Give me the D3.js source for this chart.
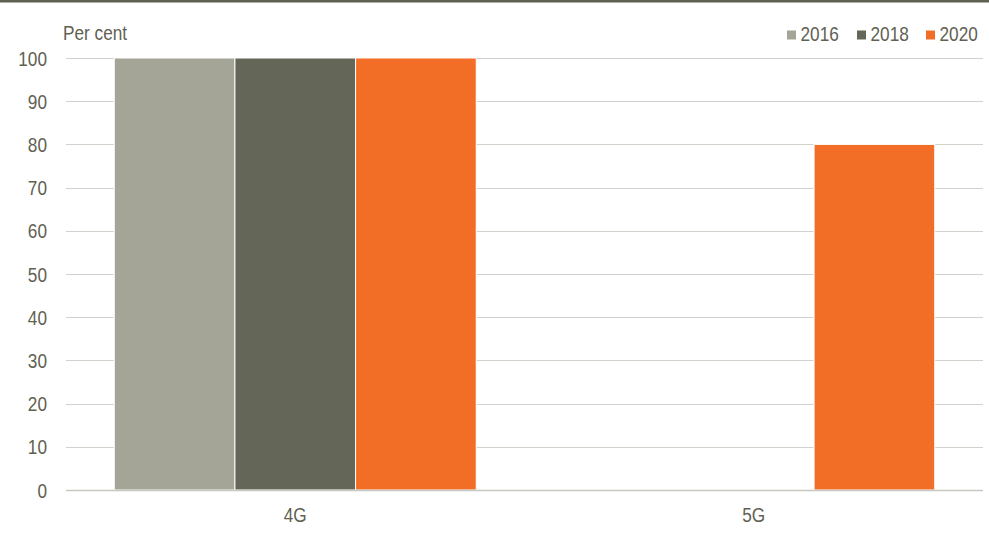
<!DOCTYPE html>
<html><head><meta charset="utf-8">
<script src="https://cdn.jsdelivr.net/npm/d3@7"></script>
<style>
body{margin:0;background:#fff;}
text{font-family:"Liberation Sans",Arial,sans-serif;fill:#5f6152;font-size:20.5px;}
</style></head><body>
<svg id="c" width="989" height="540"></svg>
<script>
const categories = ["4G", "5G"];
const seriesNames = ["2016", "2018", "2020"];
const values2016 = [100, 0];
const values2018 = [100, 0];
const values2020 = [100, 80];
const yTicks = [0, 10, 20, 30, 40, 50, 60, 70, 80, 90, 100];
const colors = ["#a5a597", "#646657", "#f26e26"];

const series = [values2016, values2018, values2020];
const svg = d3.select("#c");
const W = 989, H = 540;
const m = {l: 66, r: 6, t: 58, b: 50};
const SX = 0.84; // horizontal compression to mimic a narrow face

svg.append("rect").attr("x",0).attr("y",0).attr("width",W).attr("height",2.5).attr("fill","#5f6152");

const x0 = d3.scaleBand().domain(categories).range([m.l, W - m.r]).paddingInner(0).paddingOuter(0);
const x1 = d3.scaleBand().domain(seriesNames).range([0, x0.bandwidth()]).paddingOuter(0.4).paddingInner(0);
const y = d3.scaleLinear().domain([0, 100]).range([H - m.b, m.t]);

// gridlines
svg.append("g").selectAll("line").data(yTicks).join("line")
  .attr("x1", m.l).attr("x2", W - m.r)
  .attr("y1", d => Math.round(y(d)) + 0.5).attr("y2", d => Math.round(y(d)) + 0.5)
  .attr("stroke", "#d2d2cc").attr("stroke-width", 1);

// y axis labels
svg.append("g").selectAll("text").data(yTicks).join("text")
  .attr("transform", d => `translate(${m.l - 19},${y(d) + 7.5}) scale(${SX},1)`)
  .attr("text-anchor", "end")
  .text(d => d);

// bars
const groups = svg.append("g").selectAll("g").data(categories).join("g")
  .attr("transform", d => `translate(${x0(d)},0)`);
groups.selectAll("rect").data((c, i) => seriesNames.map((s, j) => ({s, j, v: series[j][i]})))
  .join("rect")
  .attr("x", d => x1(d.s)).attr("width", x1.bandwidth())
  .attr("y", d => y(d.v)).attr("height", d => y(0) - y(d.v))
  .attr("fill", d => colors[d.j])
  .attr("stroke", "#ffffff").attr("stroke-width", d => d.v > 0 ? 1 : 0);

// baseline
svg.append("line").attr("x1", m.l).attr("x2", W - m.r)
  .attr("y1", Math.round(y(0)) + 0.5).attr("y2", Math.round(y(0)) + 0.5)
  .attr("stroke", "#c8c8c0").attr("stroke-width", 1.5);

// x axis labels
svg.append("g").selectAll("text").data(categories).join("text")
  .attr("transform", d => `translate(${x0(d) + x0.bandwidth() / 2},522) scale(${SX},1)`)
  .attr("text-anchor", "middle")
  .text(d => d);

// y title
svg.append("text").attr("transform", `translate(63,40) scale(${SX},1)`).text("Per cent");

// legend
const legX = [787, 857, 926];
const leg = svg.append("g").selectAll("g").data(seriesNames).join("g")
  .attr("transform", (d, i) => `translate(${legX[i]},0)`);
leg.append("rect").attr("x", 0).attr("y", 30.5).attr("width", 9).attr("height", 9).attr("fill", (d, i) => colors[i]);
leg.append("text").attr("transform", `translate(13.5,41) scale(${SX},1)`).text(d => d);
</script>
</body></html>
